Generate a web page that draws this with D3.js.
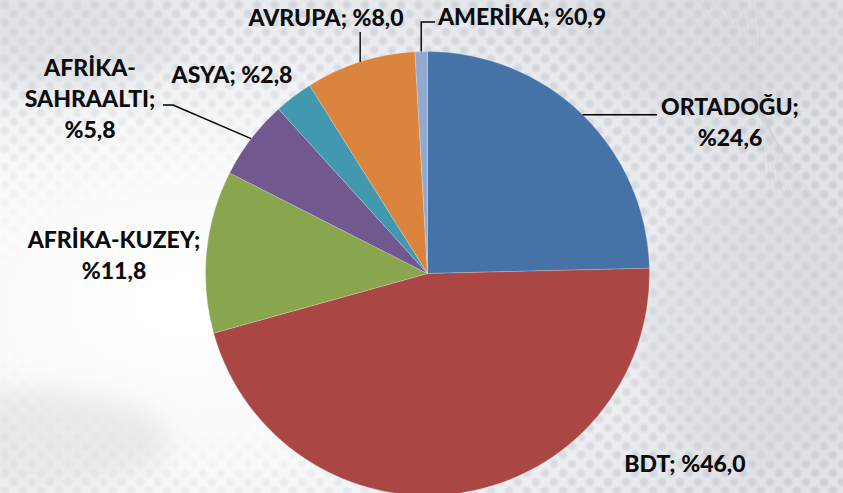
<!DOCTYPE html>
<html>
<head>
<meta charset="utf-8">
<script src="https://cdn.jsdelivr.net/npm/d3@7/dist/d3.min.js"></script>
<style>
  html, body { margin: 0; padding: 0; background: #fff; }
  svg { display: block; }
  .lbl { font-family: Lato, "Open Sans", sans-serif; font-weight: 900; font-size: 23px; fill: #0d0d0d; }
</style>
</head>
<body>
<svg id="chart" width="843" height="493"></svg>
<script>
// Export share by region (%)
const regions = ["ORTADOĞU", "BDT", "AFRİKA-KUZEY", "AFRİKA-SAHRAALTI", "ASYA", "AVRUPA", "AMERİKA"];
const shares  = [24.6, 46.0, 11.8, 5.8, 2.8, 8.0, 0.9];
const colors  = ["#4572A7", "#AA4643", "#89A54E", "#71588F", "#4198AF", "#DB843D", "#93A9CF"];
// Label text lines (region name wraps where needed)
const labelLines = [
  ["ORTADOĞU;", "%24,6"],
  ["BDT; %46,0"],
  ["AFRİKA-KUZEY;", "%11,8"],
  ["AFRİKA-", "SAHRAALTI;", "%5,8"],
  ["ASYA; %2,8"],
  ["AVRUPA; %8,0"],
  ["AMERİKA; %0,9"]
];

const W = 843, H = 493;
const cx = 427.5, cy = 273.5, R = 222;
const svg = d3.select("#chart");
const defs = svg.append("defs");

// ---- backdrop: pale grey with soft dotted texture ----
const bg = defs.append("radialGradient").attr("id", "bgGlow")
  .attr("cx", 0.22).attr("cy", 0.62).attr("r", 0.75);
bg.append("stop").attr("offset", 0).attr("stop-color", "#ffffff");
bg.append("stop").attr("offset", 0.45).attr("stop-color", "#f8f9fa");
bg.append("stop").attr("offset", 1).attr("stop-color", "#e2e4e8");

const dots = defs.append("pattern").attr("id", "dots")
  .attr("width", 18).attr("height", 18).attr("patternUnits", "userSpaceOnUse");
dots.append("circle").attr("cx", 5).attr("cy", 5).attr("r", 4.2).attr("fill", "#c6cad1");
dots.append("circle").attr("cx", 14).attr("cy", 14).attr("r", 4.2).attr("fill", "#c6cad1");

const mg = defs.append("radialGradient").attr("id", "dotFade")
  .attr("cx", 0.25).attr("cy", 0.62).attr("r", 0.8);
mg.append("stop").attr("offset", 0).attr("stop-color", "#000");
mg.append("stop").attr("offset", 0.3).attr("stop-color", "#000");
mg.append("stop").attr("offset", 0.65).attr("stop-color", "#aaa");
mg.append("stop").attr("offset", 1).attr("stop-color", "#fff");
defs.append("mask").attr("id", "dotMask")
  .append("rect").attr("width", W).attr("height", H).attr("fill", "url(#dotFade)");

const blur = defs.append("filter").attr("id", "soft").attr("x", "-50%").attr("y", "-50%")
  .attr("width", "200%").attr("height", "200%");
blur.append("feGaussianBlur").attr("stdDeviation", 14);
const blurDots = defs.append("filter").attr("id", "softDots");
blurDots.append("feGaussianBlur").attr("stdDeviation", 1.2);

const back = svg.append("g");
back.append("rect").attr("width", W).attr("height", H).attr("fill", "url(#bgGlow)");
back.append("rect").attr("width", W).attr("height", H).attr("fill", "url(#dots)")
  .attr("mask", "url(#dotMask)").attr("opacity", 0.8).attr("filter", "url(#softDots)");
// soft grey clouds
const clouds = [[60, 40, 120, 50], [760, 330, 120, 140], [720, 40, 140, 70], [30, 440, 140, 50], [540, 150, 40, 40]];
back.selectAll("ellipse.cloud").data(clouds).join("ellipse")
  .attr("class", "cloud")
  .attr("cx", d => d[0]).attr("cy", d => d[1]).attr("rx", d => d[2]).attr("ry", d => d[3])
  .attr("fill", "#d4d7dc").attr("opacity", 0.45).attr("filter", "url(#soft)");
// faint fibre strands in the upper right
const strands = d3.range(14);
back.selectAll("line.strand").data(strands).join("line")
  .attr("class", "strand")
  .attr("x1", d => 843 - d * 6).attr("y1", d => 240 - d * 4)
  .attr("x2", d => 680 + d * 6).attr("y2", 0)
  .attr("stroke", "#ccd0d5").attr("stroke-width", 1).attr("opacity", 0.4);

// ---- pie ----
const pie = d3.pie().sort(null).value(d => d)(shares);
const arc = d3.arc().innerRadius(0).outerRadius(R);
const g = svg.append("g").attr("transform", `translate(${cx},${cy})`);
g.selectAll("path").data(pie).join("path")
  .attr("d", arc)
  .attr("fill", (d, i) => colors[i])
  .attr("stroke", "#ffffff").attr("stroke-opacity", 0.35).attr("stroke-width", 0.6);

// point on the rim at a slice's mid-angle
function rim(i) {
  const a = (pie[i].startAngle + pie[i].endAngle) / 2;
  return [cx + R * Math.sin(a), cy - R * Math.cos(a)];
}

// ---- leader lines ----
const leaders = [
  { i: 0, pts: p => [p, [657, p[1]]] },
  { i: 3, pts: p => [p, [173, 105], [163, 105]] },
  { i: 5, pts: p => [p, [p[0], 32]] },
  { i: 6, pts: p => [p, [p[0], 22], [435, 22]] }
];
svg.selectAll("path.leader").data(leaders).join("path")
  .attr("class", "leader")
  .attr("d", d => d3.line()(d.pts(rim(d.i))))
  .attr("fill", "none").attr("stroke", "#000").attr("stroke-width", 1.4);

// ---- labels: centre x and first baseline ----
const labelPos = [[730, 115], [685, 472], [114, 248], [90, 76], [232, 83], [326, 26], [522, 25]];
const lineH = 31;
const lbl = svg.selectAll("text.lbl").data(regions).join("text")
  .attr("class", "lbl")
  .attr("text-anchor", "middle")
  .attr("x", (d, i) => labelPos[i][0])
  .attr("y", (d, i) => labelPos[i][1]);
lbl.each(function (d, i) {
  d3.select(this).selectAll("tspan").data(labelLines[i]).join("tspan")
    .attr("x", labelPos[i][0])
    .attr("dy", (t, k) => k === 0 ? 0 : lineH)
    .text(t => t);
});
</script>
</body>
</html>
